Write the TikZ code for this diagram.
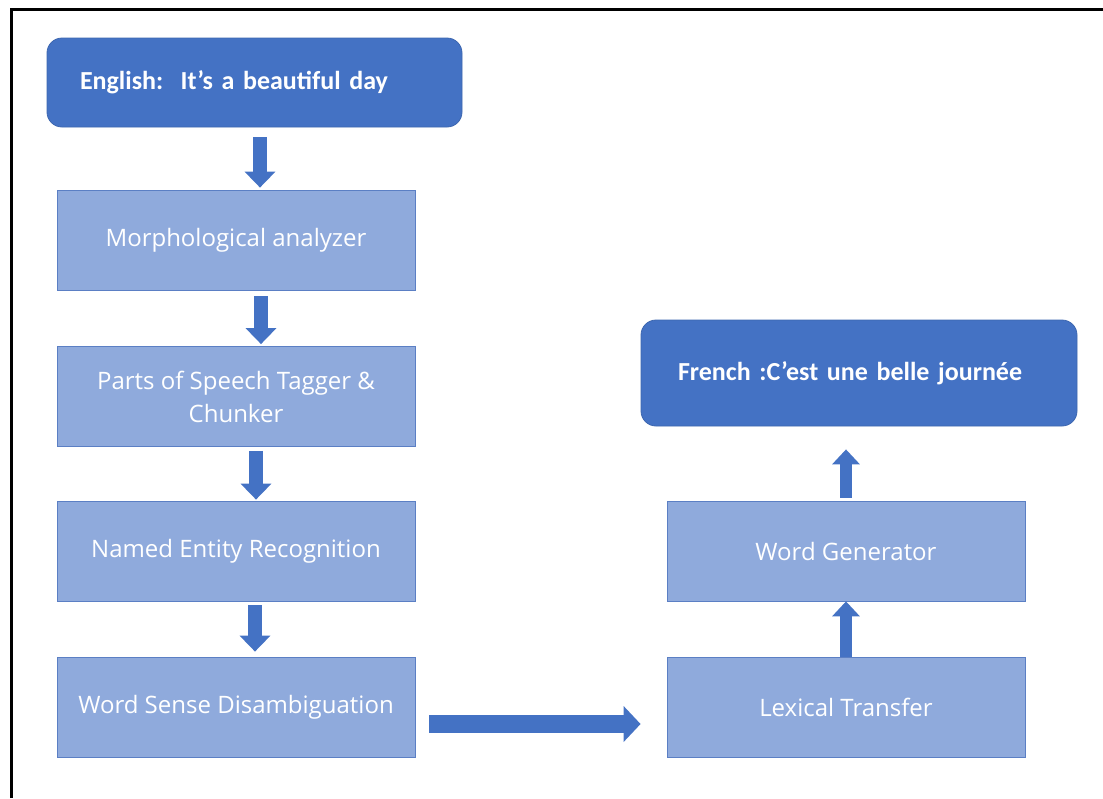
\documentclass[tikz,border=0pt]{standalone}
\usepackage{fontspec}
\setmainfont{Carlito}
\newfontfamily\boxfont{Open Sans}
\usetikzlibrary{arrows.meta}
\definecolor{darkblue}{HTML}{4472C4}
\definecolor{lightblue}{HTML}{8FAADC}
\definecolor{edgeblue}{HTML}{5B7FC4}
\tikzset{
  endbox/.style={rounded corners=15pt, fill=darkblue, draw=darkblue!90!black, line width=0.8pt,
    text=white, font=\fontsize{26}{30}\selectfont\bfseries, align=left, inner sep=0pt, anchor=center},
  stepbox/.style={fill=lightblue, draw=edgeblue, line width=0.8pt, text=white,
    font=\boxfont\fontsize{24}{33}\selectfont, align=center, minimum width=358pt, minimum height=100pt, inner sep=0pt},
  blockdown/.style={draw=darkblue, line width=14pt, -{Triangle[width=30pt,length=16pt]}},
  blockup/.style={draw=darkblue, line width=12pt, -{Triangle[width=27pt,length=15pt]}},
  blockright/.style={draw=darkblue, line width=18pt, -{Triangle[width=35pt,length=17pt]}},
}
\begin{document}
\begin{tikzpicture}[x=1pt,y=-1pt]
\useasboundingbox (0,0) rectangle (1103,798);
\fill[white] (0,0) rectangle (1103,798);
% frame
\draw[line width=3pt, black] (11.5,798) -- (11.5,9.5) -- (1103,9.5);
% nodes
\node[endbox, text width=349pt, minimum height=89pt, inner xsep=33pt] (eng) at (254.5,82.5) {English:\ \ It’s a beautiful day};
\node[stepbox] (morph) at (236,240) {Morphological analyzer};
\node[stepbox] (pos) at (236,396.5) {Parts of Speech Tagger \&\\Chunker};
\node[stepbox] (ner) at (236,551) {Named Entity Recognition};
\node[stepbox] (wsd) at (236,707) {Word Sense Disambiguation};
\node[stepbox] (lex) at (846,707) {Lexical Transfer};
\node[stepbox] (wg) at (846,551) {Word Generator};
\node[endbox, text width=362pt, minimum height=106pt, inner xsep=37pt] (fr) at (859,373) {French :C\char"27 est une belle journée};
% connectors
\draw[blockdown] ([xshift=5.5pt,yshift=-10pt]eng.south) -- ([xshift=24pt,yshift=2pt]morph.north);
\draw[blockdown] ([xshift=25pt,yshift=-6pt]morph.south) -- ([xshift=25pt,yshift=2pt]pos.north);
\draw[blockdown] ([xshift=20pt,yshift=-4pt]pos.south) -- ([xshift=20pt,yshift=1pt]ner.north);
\draw[blockdown] ([xshift=19pt,yshift=-4pt]ner.south) -- ([xshift=19pt,yshift=5pt]wsd.north);
\draw[blockright] ([xshift=14pt,yshift=-17pt]wsd.east) -- ([xshift=-26pt,yshift=-17pt]lex.west);
\draw[blockup] (lex.north) -- (wg.south);
\draw[blockup] ([yshift=3pt]wg.north) -- ([xshift=-13pt,yshift=-23pt]fr.south);
\end{tikzpicture}
\end{document}
